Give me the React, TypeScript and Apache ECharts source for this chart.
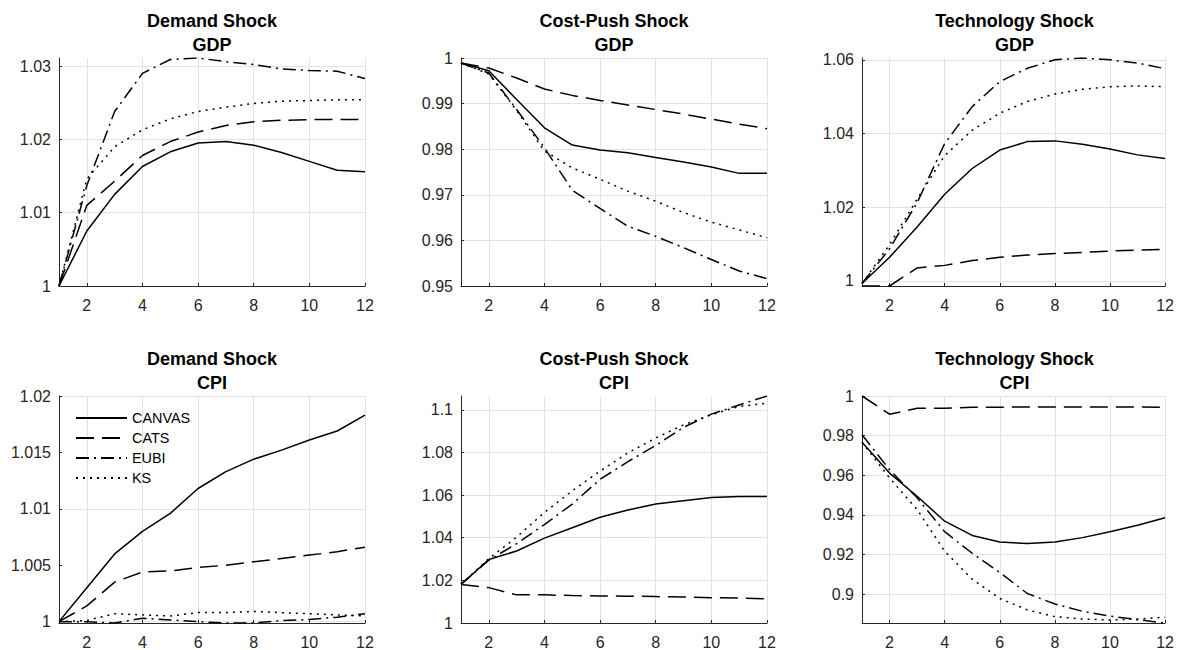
import React, { useEffect, useRef } from "react";
import * as echarts from "echarts";

const periods = ["1", "2", "3", "4", "5", "6", "7", "8", "9", "10", "11", "12"];
const seriesNames = ["CANVAS", "CATS", "EUBI", "KS"];

// Demand Shock - GDP
const demandGdpCanvas = [1, 1.0075, 1.0125, 1.0163, 1.0183, 1.0195, 1.0197, 1.0192, 1.0182, 1.0170, 1.0158, 1.0156];
const demandGdpCats = [1, 1.0110, 1.0143, 1.0178, 1.0197, 1.0210, 1.0219, 1.0224, 1.0226, 1.0227, 1.0227, 1.0227];
const demandGdpEubi = [1, 1.0137, 1.0238, 1.0290, 1.0309, 1.0311, 1.0306, 1.0302, 1.0296, 1.0294, 1.0293, 1.0283];
const demandGdpKs = [1, 1.0146, 1.0190, 1.0213, 1.0228, 1.0238, 1.0244, 1.0249, 1.0252, 1.0253, 1.0254, 1.0254];

// Cost-Push Shock - GDP
const costGdpCanvas = [0.9989, 0.9972, 0.9909, 0.9847, 0.9809, 0.9798, 0.9792, 0.9782, 0.9772, 0.9761, 0.9747, 0.9747];
const costGdpCats = [0.9989, 0.9978, 0.9956, 0.9932, 0.9918, 0.9907, 0.9897, 0.9887, 0.9877, 0.9866, 0.9855, 0.9845];
const costGdpEubi = [0.9989, 0.9967, 0.9887, 0.9803, 0.9710, 0.9670, 0.9631, 0.9609, 0.9584, 0.9558, 0.9533, 0.9516];
const costGdpKs = [0.9989, 0.9965, 0.9885, 0.9796, 0.9759, 0.9734, 0.9708, 0.9686, 0.9661, 0.9640, 0.9623, 0.9606];

// Technology Shock - GDP
const techGdpCanvas = [0.9993, 1.0064, 1.0146, 1.0235, 1.0305, 1.0355, 1.0378, 1.0380, 1.0371, 1.0358, 1.0342, 1.0332];
const techGdpCats = [0.9986, 0.9986, 1.0035, 1.0042, 1.0055, 1.0064, 1.0070, 1.0074, 1.0077, 1.0081, 1.0083, 1.0086];
const techGdpEubi = [0.9993, 1.0087, 1.0212, 1.0373, 1.0473, 1.0541, 1.0577, 1.0600, 1.0605, 1.0600, 1.0591, 1.0576];
const techGdpKs = [0.9993, 1.0098, 1.0222, 1.0340, 1.0409, 1.0455, 1.0487, 1.0507, 1.0520, 1.0527, 1.0529, 1.0527];

// Demand Shock - CPI
const demandCpiCanvas = [1, 1.0030, 1.0060, 1.0080, 1.0096, 1.0118, 1.0133, 1.0144, 1.0152, 1.0161, 1.0169, 1.0183];
const demandCpiCats = [1, 1.0014, 1.0035, 1.0044, 1.0045, 1.0048, 1.0050, 1.0053, 1.0056, 1.0059, 1.0062, 1.0066];
const demandCpiEubi = [1, 1.0, 0.99988, 1.0003, 1.00015, 1.0, 0.99988, 0.99988, 1.0001, 1.0002, 1.0004, 1.0007];
const demandCpiKs = [1, 1.0001, 1.0007, 1.0006, 1.0005, 1.0008, 1.0008, 1.0009, 1.0008, 1.0007, 1.0006, 1.0005];

// Cost-Push Shock - CPI
const costCpiCanvas = [1.0181, 1.0298, 1.0338, 1.0398, 1.0447, 1.0496, 1.0530, 1.0558, 1.0574, 1.0589, 1.0594, 1.0594];
const costCpiCats = [1.0181, 1.0166, 1.0132, 1.0132, 1.0129, 1.0127, 1.0126, 1.0124, 1.0122, 1.0119, 1.0117, 1.0113];
const costCpiEubi = [1.0181, 1.0295, 1.0372, 1.0462, 1.0558, 1.0674, 1.0757, 1.0833, 1.0918, 1.0980, 1.1023, 1.1065];
const costCpiKs = [1.0181, 1.0302, 1.0403, 1.0519, 1.0620, 1.0713, 1.0798, 1.0868, 1.0930, 1.0977, 1.1016, 1.1031];

// Technology Shock - CPI
const techCpiCanvas = [0.9767, 0.9611, 0.9494, 0.9368, 0.9296, 0.9263, 0.9255, 0.9263, 0.9285, 0.9315, 0.9347, 0.9385];
const techCpiCats = [1.0, 0.9908, 0.9938, 0.9938, 0.9943, 0.9943, 0.9945, 0.9945, 0.9944, 0.9944, 0.9944, 0.9943];
const techCpiEubi = [0.9804, 0.9628, 0.9486, 0.9315, 0.9206, 0.9109, 0.9003, 0.8950, 0.8913, 0.8889, 0.8871, 0.8854];
const techCpiKs = [0.9767, 0.9586, 0.9427, 0.9216, 0.9075, 0.8978, 0.8920, 0.8886, 0.8874, 0.8869, 0.8874, 0.8883];

// Titles
const panelTitles = [
  "Demand Shock\nGDP",
  "Cost-Push Shock\nGDP",
  "Technology Shock\nGDP",
  "Demand Shock\nCPI",
  "Cost-Push Shock\nCPI",
  "Technology Shock\nCPI",
];

// Y tick labels per panel
const demandGdpTicks = [1, 1.01, 1.02, 1.03];
const costGdpTicks = [0.95, 0.96, 0.97, 0.98, 0.99, 1];
const techGdpTicks = [1, 1.02, 1.04, 1.06];
const demandCpiTicks = [1, 1.005, 1.01, 1.015, 1.02];
const costCpiTicks = [1, 1.02, 1.04, 1.06, 1.08, 1.1];
const techCpiTicks = [0.9, 0.92, 0.94, 0.96, 0.98, 1];

// Y limits per panel [min, max]
const demandGdpLimits = [1, 1.0311];
const costGdpLimits = [0.95, 1];
const techGdpLimits = [0.9986, 1.0605];
const demandCpiLimits = [0.99988, 1.02];
const costCpiLimits = [1, 1.1065];
const techCpiLimits = [0.8854, 1];

const panelData = [
  [demandGdpCanvas, demandGdpCats, demandGdpEubi, demandGdpKs],
  [costGdpCanvas, costGdpCats, costGdpEubi, costGdpKs],
  [techGdpCanvas, techGdpCats, techGdpEubi, techGdpKs],
  [demandCpiCanvas, demandCpiCats, demandCpiEubi, demandCpiKs],
  [costCpiCanvas, costCpiCats, costCpiEubi, costCpiKs],
  [techCpiCanvas, techCpiCats, techCpiEubi, techCpiKs],
];
const panelTicks = [demandGdpTicks, costGdpTicks, techGdpTicks, demandCpiTicks, costCpiTicks, techCpiTicks];
const panelLimits = [demandGdpLimits, costGdpLimits, techGdpLimits, demandCpiLimits, costCpiLimits, techCpiLimits];

const FONT = '"Liberation Sans", Arial, Helvetica, sans-serif';
const GRID_COLOR = "#e2e2e2";
const AXIS_COLOR = "#262626";

const colLeft = [59, 461, 862];
const colWidth = [306, 306, 305];
const rowTop = [58, 396];
const rowHeight = 228;

const lineTypes: any[] = ["solid", [18, 8], [13, 5, 2, 5], [2, 5]];

const fmt = (v: number) => String(+Number(v).toFixed(4));

export default function App() {
  const ref = useRef<HTMLDivElement>(null);

  useEffect(() => {
    if (!ref.current) return;
    const chart = echarts.init(ref.current, null, { renderer: "svg" });

    const grids: any[] = [];
    const xAxes: any[] = [];
    const yAxes: any[] = [];
    const series: any[] = [];
    const graphics: any[] = [];

    for (let p = 0; p < 6; p++) {
      const col = p % 3;
      const row = Math.floor(p / 3);
      grids.push({
        left: colLeft[col],
        top: rowTop[row],
        width: colWidth[col],
        height: rowHeight,
        containLabel: false,
      });
      const evenIdx = (idx: number) => (idx + 1) % 2 === 0;
      xAxes.push({
        type: "category",
        gridIndex: p,
        data: periods,
        boundaryGap: false,
        axisLine: { show: true, lineStyle: { color: AXIS_COLOR, width: 1 } },
        axisTick: { show: true, inside: true, length: 3, interval: (i: number) => evenIdx(i), lineStyle: { color: AXIS_COLOR } },
        axisLabel: {
          interval: (i: number) => evenIdx(i),
          color: AXIS_COLOR,
          fontSize: 16,
          fontFamily: FONT,
          margin: 11,
        },
        splitLine: { show: true, interval: (i: number) => evenIdx(i), lineStyle: { color: GRID_COLOR, width: 1 } },
      });
      const ticks = panelTicks[p];
      const lim = panelLimits[p];
      yAxes.push({
        type: "value",
        gridIndex: p,
        min: lim[0],
        max: lim[1],
        axisLine: { show: true, lineStyle: { color: AXIS_COLOR, width: 1 } },
        axisTick: { show: true, inside: true, length: 3, customValues: ticks, lineStyle: { color: AXIS_COLOR } },
        axisLabel: {
          customValues: ticks,
          formatter: (v: number) => fmt(v),
          color: AXIS_COLOR,
          fontSize: 16,
          fontFamily: FONT,
          margin: 8,
        },
        splitLine: { show: false },
      });
      series.push({
        type: "line",
        name: "grid" + p,
        xAxisIndex: p,
        yAxisIndex: p,
        data: [],
        silent: true,
        markLine: {
          silent: true,
          symbol: "none",
          z: -1,
          label: { show: false },
          lineStyle: { color: GRID_COLOR, type: "solid", width: 1 },
          emphasis: { disabled: true },
          data: ticks.filter((t) => t > lim[0] + 1e-9).map((t) => ({ yAxis: t })),
        },
      });
      panelData[p].forEach((arr, s) => {
        series.push({
          type: "line",
          name: seriesNames[s],
          xAxisIndex: p,
          yAxisIndex: p,
          data: arr,
          symbol: "none",
          z: 3,
          lineStyle: { color: "#000", width: 1.5, type: lineTypes[s], cap: "butt" },
          itemStyle: { color: "#000" },
          emphasis: { disabled: true },
        });
      });
      graphics.push({
        type: "text",
        x: colLeft[col] + colWidth[col] / 2,
        y: row === 0 ? 9 : 347,
        style: {
          text: panelTitles[p],
          align: "center",
          verticalAlign: "top",
          fontSize: 18,
          fontWeight: "bold",
          lineHeight: 24,
          fill: "#000",
          fontFamily: FONT,
        },
      });
    }

    chart.setOption({
      animation: false,
      backgroundColor: "#ffffff",
      grid: grids,
      xAxis: xAxes,
      yAxis: yAxes,
      series,
      graphic: graphics,
      legend: {
        data: seriesNames,
        orient: "vertical",
        left: 70,
        top: 406,
        itemWidth: 51,
        itemHeight: 14,
        itemGap: 6,
        selectedMode: false,
        itemStyle: { color: "rgba(0,0,0,0)", borderWidth: 0, opacity: 0 },
        textStyle: { fontSize: 14.4, color: "#000", fontFamily: FONT },
      },
    });

    return () => {
      chart.dispose();
    };
  }, []);

  return <div ref={ref} style={{ position: "absolute", left: 0, top: 0, width: 1177, height: 650 }} />;
}
